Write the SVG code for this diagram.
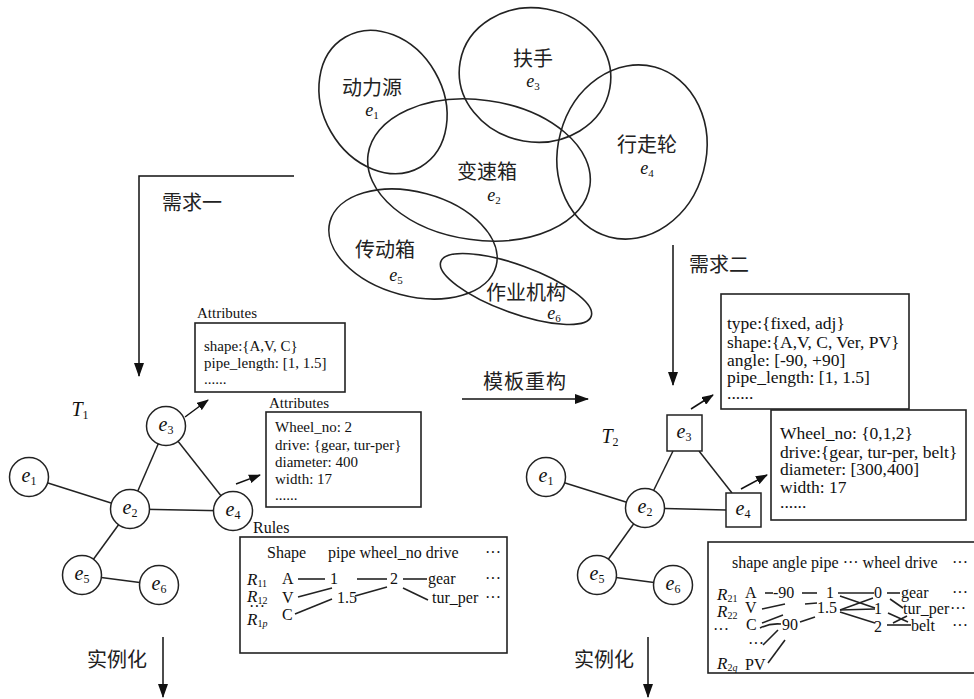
<svg xmlns="http://www.w3.org/2000/svg" width="974" height="699" viewBox="0 0 974 699">
<defs>
<style>
.bg{fill:#ffffff}
.ell{fill:none;stroke:#222;stroke-width:1.6}
.ln{stroke:#222;stroke-width:1.5;fill:none}
.rl{stroke:#222;stroke-width:1.6;fill:none}
.box{fill:#fff;stroke:#222;stroke-width:1.6}
.nd{fill:#fff;stroke:#222;stroke-width:1.5}
.cn{font-family:"Liberation Serif","Noto Sans CJK SC",serif;font-size:20px;fill:#222}
.t{font-family:"Liberation Serif",serif;font-size:15px;fill:#111}
.tb{font-family:"Liberation Serif",serif;font-size:17.5px;fill:#111}
.r{font-family:"Liberation Serif",serif;font-size:16px;fill:#111}
.el{font-family:"Liberation Serif",serif;font-size:18px;fill:#111;text-anchor:middle}
.nl{font-family:"Liberation Serif",serif;font-size:20px;fill:#111;text-anchor:middle}
.it{font-style:italic}
.ar{stroke:#111;stroke-width:1.5;fill:none;marker-end:url(#ah)}
.ar2{stroke:#111;stroke-width:1.5;fill:none;marker-end:url(#ahs)}
</style>
<marker id="ah" markerUnits="userSpaceOnUse" markerWidth="14" markerHeight="10" refX="13" refY="5" orient="auto"><path d="M0,0 L14,5 L0,10 z" fill="#111"/></marker>
<marker id="ahs" markerUnits="userSpaceOnUse" markerWidth="12" markerHeight="9" refX="11" refY="4.5" orient="auto"><path d="M0,0 L12,4.5 L0,9 z" fill="#111"/></marker>
</defs>
<rect class="bg" x="0" y="0" width="974" height="699"/>

<!-- Venn-like sets -->
<g id="set-e1"><ellipse class="ell" cx="383" cy="102" rx="60" ry="75" transform="rotate(-30 383 102)"/>
<text class="cn" x="372" y="95" text-anchor="middle">动力源</text>
<text class="el" x="372" y="116"><tspan class="it">e</tspan><tspan font-size="11" dy="3">1</tspan></text></g>
<g id="set-e3"><ellipse class="ell" cx="535" cy="75" rx="76" ry="67" transform="rotate(10 535 75)"/>
<text class="cn" x="533" y="66" text-anchor="middle">扶手</text>
<text class="el" x="533" y="87"><tspan class="it">e</tspan><tspan font-size="11" dy="3">3</tspan></text></g>
<g id="set-e2"><ellipse class="ell" cx="479" cy="170" rx="112" ry="70" transform="rotate(8 479 170)"/>
<text class="cn" x="487" y="179" text-anchor="middle">变速箱</text>
<text class="el" x="494" y="201"><tspan class="it">e</tspan><tspan font-size="11" dy="3">2</tspan></text></g>
<g id="set-e4"><ellipse class="ell" cx="632" cy="152" rx="74" ry="88" transform="rotate(15 632 152)"/>
<text class="cn" x="647" y="152" text-anchor="middle">行走轮</text>
<text class="el" x="647" y="174"><tspan class="it">e</tspan><tspan font-size="11" dy="3">4</tspan></text></g>
<g id="set-e5"><ellipse class="ell" cx="413" cy="244" rx="86" ry="52" transform="rotate(15 413 244)"/>
<text class="cn" x="385" y="257" text-anchor="middle">传动箱</text>
<text class="el" x="396" y="281"><tspan class="it">e</tspan><tspan font-size="11" dy="3">5</tspan></text></g>
<g id="set-e6"><ellipse class="ell" cx="516" cy="289" rx="80" ry="24" transform="rotate(20 516 289)"/>
<text class="cn" x="526" y="300" text-anchor="middle">作业机构</text>
<text class="el" x="554" y="319"><tspan class="it">e</tspan><tspan font-size="11" dy="3">6</tspan></text></g>

<!-- connectors -->
<g id="connectors">
<polyline class="ar" points="294,176 139,176 139,376"/>
<line class="ar" x1="673" y1="245" x2="673" y2="385"/>
<line class="ar" x1="462" y1="399" x2="588" y2="399"/>
<line class="ar" x1="163" y1="637" x2="163" y2="697"/>
<line class="ar" x1="648" y1="637" x2="648" y2="697"/>
<!-- left graph edges -->
<line class="ln" x1="29" y1="477" x2="130" y2="509"/>
<line class="ln" x1="130" y1="509" x2="166" y2="426"/>
<line class="ln" x1="166" y1="426" x2="233" y2="511"/>
<line class="ln" x1="130" y1="509" x2="233" y2="511"/>
<line class="ln" x1="130" y1="509" x2="82" y2="575"/>
<line class="ln" x1="82" y1="575" x2="159" y2="585"/>
<line class="ar2" x1="185" y1="417" x2="208" y2="400"/>
<line class="ar2" x1="236" y1="484" x2="260" y2="475"/>
<!-- right graph edges -->
<line class="ln" x1="546" y1="477" x2="645" y2="508"/>
<line class="ln" x1="645" y1="508" x2="673" y2="451"/>
<line class="ln" x1="699" y1="451" x2="732" y2="493"/>
<line class="ln" x1="645" y1="508" x2="726" y2="510"/>
<line class="ln" x1="645" y1="508" x2="597" y2="575"/>
<line class="ln" x1="597" y1="575" x2="673" y2="585"/>
<line class="ar2" x1="691" y1="409" x2="713" y2="395"/>
<line class="ar2" x1="741" y1="489" x2="767" y2="475"/>
</g>

<!-- labels -->
<g id="labels">
<text class="cn" x="192" y="210" text-anchor="middle">需求一</text>
<text class="cn" x="719" y="272" text-anchor="middle">需求二</text>
<text class="cn" x="525" y="389" text-anchor="middle" letter-spacing="1">模板重构</text>
<text class="cn" x="117" y="667" text-anchor="middle">实例化</text>
<text class="cn" x="604" y="667" text-anchor="middle">实例化</text>
<text class="nl" x="80" y="416"><tspan class="it">T</tspan><tspan font-size="12" dy="3">1</tspan></text>
<text class="nl" x="610" y="443"><tspan class="it">T</tspan><tspan font-size="12" dy="3">2</tspan></text>
</g>

<!-- left graph nodes -->
<g id="T1-e1"><circle class="nd" cx="29" cy="477" r="19.5"/><text class="nl" x="29" y="482"><tspan class="it">e</tspan><tspan font-size="12" dy="3">1</tspan></text></g>
<g id="T1-e2"><circle class="nd" cx="130" cy="509" r="19.5"/><text class="nl" x="130" y="514"><tspan class="it">e</tspan><tspan font-size="12" dy="3">2</tspan></text></g>
<g id="T1-e3"><circle class="nd" cx="166" cy="426" r="19.5"/><text class="nl" x="166" y="431"><tspan class="it">e</tspan><tspan font-size="12" dy="3">3</tspan></text></g>
<g id="T1-e4"><circle class="nd" cx="233" cy="511" r="19.5"/><text class="nl" x="233" y="516"><tspan class="it">e</tspan><tspan font-size="12" dy="3">4</tspan></text></g>
<g id="T1-e5"><circle class="nd" cx="82" cy="575" r="19.5"/><text class="nl" x="82" y="580"><tspan class="it">e</tspan><tspan font-size="12" dy="3">5</tspan></text></g>
<g id="T1-e6"><circle class="nd" cx="159" cy="585" r="19.5"/><text class="nl" x="159" y="590"><tspan class="it">e</tspan><tspan font-size="12" dy="3">6</tspan></text></g>

<!-- right graph nodes -->
<g id="T2-e1"><circle class="nd" cx="546" cy="477" r="19.5"/><text class="nl" x="546" y="482"><tspan class="it">e</tspan><tspan font-size="12" dy="3">1</tspan></text></g>
<g id="T2-e2"><circle class="nd" cx="645" cy="508" r="19.5"/><text class="nl" x="645" y="513"><tspan class="it">e</tspan><tspan font-size="12" dy="3">2</tspan></text></g>
<g id="T2-e3"><rect class="nd" x="667" y="415" width="35" height="36"/><text class="nl" x="684" y="438"><tspan class="it">e</tspan><tspan font-size="12" dy="3">3</tspan></text></g>
<g id="T2-e4"><rect class="nd" x="726" y="493" width="35" height="34"/><text class="nl" x="743" y="515"><tspan class="it">e</tspan><tspan font-size="12" dy="3">4</tspan></text></g>
<g id="T2-e5"><circle class="nd" cx="597" cy="575" r="19.5"/><text class="nl" x="597" y="580"><tspan class="it">e</tspan><tspan font-size="12" dy="3">5</tspan></text></g>
<g id="T2-e6"><circle class="nd" cx="673" cy="585" r="19.5"/><text class="nl" x="673" y="590"><tspan class="it">e</tspan><tspan font-size="12" dy="3">6</tspan></text></g>

<!-- left attribute boxes -->
<g id="T1-attr-e3">
<text class="t" x="197" y="318">Attributes</text>
<rect class="box" x="195" y="323" width="150" height="69"/>
<text class="t" x="204" y="351">shape:{A,V, C}</text>
<text class="t" x="204" y="368">pipe_length: [1, 1.5]</text>
<text class="t" x="204" y="384">......</text>
</g>
<g id="T1-attr-e4">
<text class="t" x="269" y="408">Attributes</text>
<rect class="box" x="266" y="412" width="155" height="95"/>
<text class="t" x="275" y="432">Wheel_no: 2</text>
<text class="t" x="275" y="450">drive: {gear, tur-per}</text>
<text class="t" x="275" y="467">diameter: 400</text>
<text class="t" x="275" y="484">width: 17</text>
<text class="t" x="275" y="500">......</text>
</g>

<!-- left rules -->
<g id="T1-rules">
<text class="r" x="253" y="533">Rules</text>
<rect class="box" x="240" y="537" width="267" height="116"/>
<text class="r" x="267" y="558">Shape</text>
<text class="r" x="328" y="558">pipe wheel_no drive</text>
<text class="r" x="485" y="558">···</text>
<text class="r" x="247" y="585"><tspan class="it" font-size="17">R</tspan><tspan font-size="10" dy="2">11</tspan></text>
<text class="r" x="282" y="584">A</text>
<text class="r" x="330" y="584">1</text>
<text class="r" x="390" y="584">2</text>
<text class="r" x="428" y="584">gear</text>
<text class="r" x="485" y="584">···</text>
<text class="r" x="247" y="602"><tspan class="it" font-size="17">R</tspan><tspan font-size="10" dy="2">12</tspan></text>
<text class="r" x="282" y="603">V</text>
<text class="r" x="337" y="603">1.5</text>
<text class="r" x="432" y="603">tur_per</text>
<text class="r" x="485" y="603">···</text>
<text class="r" x="249" y="612" font-size="8">···</text>
<text class="r" x="247" y="625"><tspan class="it" font-size="17">R</tspan><tspan font-size="10" dy="2">1</tspan><tspan class="it" font-size="10">p</tspan></text>
<text class="r" x="282" y="620">C</text>
<line class="rl" x1="298" y1="579" x2="325" y2="579"/>
<line class="rl" x1="357" y1="579" x2="387" y2="579"/>
<line class="rl" x1="403" y1="579" x2="427" y2="579"/>
<line class="rl" x1="298" y1="597" x2="332" y2="588"/>
<line class="rl" x1="355" y1="596" x2="387" y2="587"/>
<line class="rl" x1="403" y1="588" x2="428" y2="600"/>
<line class="rl" x1="295" y1="614" x2="332" y2="599"/>
</g>

<!-- right attribute boxes -->
<g id="T2-attr-e3">
<rect class="box" x="721" y="294" width="188" height="115"/>
<text class="tb" x="727" y="329">type:{fixed, adj}</text>
<text class="tb" x="727" y="348">shape:{A,V, C, Ver, PV}</text>
<text class="tb" x="727" y="366">angle: [-90, +90]</text>
<text class="tb" x="727" y="383">pipe_length: [1, 1.5]</text>
<text class="tb" x="727" y="399">......</text>
</g>
<g id="T2-attr-e4">
<rect class="box" x="771" y="410" width="195" height="110"/>
<text class="tb" x="780" y="439">Wheel_no: {0,1,2}</text>
<text class="tb" x="780" y="458">drive:{gear, tur-per, belt}</text>
<text class="tb" x="780" y="475">diameter: [300,400]</text>
<text class="tb" x="780" y="493">width: 17</text>
<text class="tb" x="780" y="508">......</text>
</g>

<!-- right rules -->
<g id="T2-rules">
<rect class="box" x="708" y="542" width="270" height="131"/>
<text class="r" x="732" y="568">shape angle pipe ··· wheel drive</text>
<text class="r" x="952" y="568">···</text>
<text class="r" x="717" y="600"><tspan class="it" font-size="17">R</tspan><tspan font-size="10" dy="2">21</tspan></text>
<text class="r" x="745" y="598">A</text>
<text class="r" x="773" y="598">-90</text>
<text class="r" x="826" y="598">1</text>
<text class="r" x="874" y="598">0</text>
<text class="r" x="901" y="598">gear</text>
<text class="r" x="952" y="598">···</text>
<text class="r" x="717" y="617"><tspan class="it" font-size="17">R</tspan><tspan font-size="10" dy="2">22</tspan></text>
<text class="r" x="745" y="613">V</text>
<text class="r" x="817" y="613">1.5</text>
<text class="r" x="874" y="614">1</text>
<text class="r" x="903" y="614">tur_per</text>
<text class="r" x="950" y="614">···</text>
<text class="r" x="713" y="635" font-size="12">···</text>
<text class="r" x="746" y="630">C</text>
<text class="r" x="782" y="630">90</text>
<text class="r" x="874" y="632">2</text>
<text class="r" x="911" y="631">belt</text>
<text class="r" x="952" y="631">···</text>
<text class="r" x="748" y="649" font-size="12">···</text>
<text class="r" x="717" y="669"><tspan class="it" font-size="17">R</tspan><tspan font-size="10" dy="2">2</tspan><tspan class="it" font-size="10">q</tspan></text>
<text class="r" x="745" y="670">PV</text>
<line class="rl" x1="765" y1="593" x2="773" y2="593"/>
<line class="rl" x1="802" y1="593" x2="817" y2="593"/>
<line class="rl" x1="838" y1="593" x2="874" y2="593"/>
<line class="rl" x1="840" y1="596" x2="875" y2="608"/>
<line class="rl" x1="840" y1="610" x2="873" y2="598"/>
<line class="rl" x1="840" y1="610" x2="875" y2="609"/>
<line class="rl" x1="840" y1="612" x2="875" y2="623"/>
<line class="rl" x1="887" y1="593" x2="900" y2="593"/>
<line class="rl" x1="890" y1="599" x2="903" y2="608"/>
<line class="rl" x1="888" y1="613" x2="908" y2="622"/>
<line class="rl" x1="893" y1="623" x2="907" y2="616"/>
<line class="rl" x1="887" y1="625" x2="911" y2="625"/>
<line class="rl" x1="762" y1="609" x2="785" y2="604"/>
<line class="rl" x1="805" y1="604" x2="817" y2="603"/>
<line class="rl" x1="762" y1="623" x2="783" y2="615"/>
<path class="rl" d="M760,628 Q770,623 781,624"/>
<line class="rl" x1="800" y1="622" x2="815" y2="617"/>
<line class="rl" x1="763" y1="645" x2="778" y2="630"/>
<line class="rl" x1="768" y1="663" x2="785" y2="640"/>
</g>
</svg>
